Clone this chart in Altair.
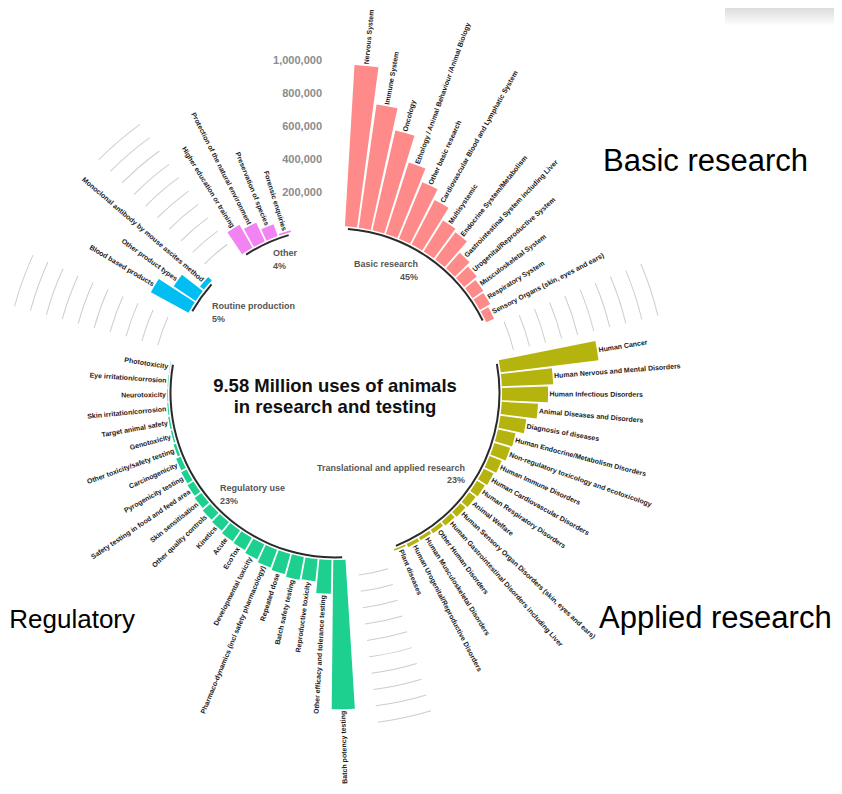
import math
import altair as alt
import pandas as pd

# ---------------- data ----------------
basic_labels = [
    "Nervous System", "Immune System", "Oncology",
    "Ethology / Animal Behaviour /Animal Biology", "Other basic research",
    "Cardiovascular Blood and Lymphatic System", "Multisystemic",
    "Endocrine System/Metabolism", "Gastrointestinal System including Liver",
    "Urogenital/Reproductive System", "Musculoskeletal System",
    "Respiratory System", "Sensory Organs (skin, eyes and ears)",
]
basic_values = [980000, 755000, 620000, 455000, 370000, 305000, 222000,
                205000, 125000, 100000, 80000, 72000, 52000]

applied_labels = [
    "Human Cancer", "Human Nervous and Mental Disorders",
    "Human Infectious Disorders", "Animal Diseases and Disorders",
    "Diagnosis of diseases", "Human Endocrine/Metabolism Disorders",
    "Non-regulatory toxicology and ecotoxicology", "Human Immune Disorders",
    "Human Cardiovascular Disorders", "Human Respiratory Disorders",
    "Animal Welfare", "Human Sensory Organ Disorders (skin, eyes and ears)",
    "Human Gastrointestinal Disorders including Liver", "Other Human Disorders",
    "Human Musculoskeletal Disorders", "Human Urogenital/Reproductive Disorders",
    "Plant diseases",
]
applied_values = [597000, 311000, 279000, 220000, 158000, 109000, 100000,
                  78000, 65000, 55000, 48000, 40000, 33000, 25000, 20000,
                  22000, 10000]

regulatory_labels = [
    "Batch potency testing", "Other efficacy and tolerance testing",
    "Reproductive toxicity", "Batch safety testing", "Repeated dose",
    "Pharmaco-dynamics (incl safety pharmacology)", "Developmental toxicity",
    "EcoTox", "Acute", "Kinetics", "Other quality controls",
    "Skin sensitisation", "Safety testing in food and feed area",
    "Pyrogenicity testing", "Carcinogenicity", "Other toxicity/safety testing",
    "Genotoxicity", "Target animal safety", "Skin irritation/corrosion",
    "Neurotoxicity", "Eye irritation/corrosion", "Phototoxicity",
]
regulatory_values = [905000, 205000, 135000, 140000, 127000, 115000, 100000,
                     85000, 80000, 68000, 60000, 50000, 42000, 36000, 30000,
                     15000, 9000, 9000, 6000, 4000, 3000, 2000]

routine_labels = ["Blood based products", "Other product types",
                  "Monoclonal antibody by mouse ascites method"]
routine_values = [260000, 160000, 30000]

other_labels = ["Higher education or training",
                "Protection of the natural environment",
                "Preservation of species", "Forensic enquiries"]
other_values = [160000, 125000, 76000, 10000]

group_names = ["Basic research", "Translational and applied research",
               "Regulatory use", "Routine production", "Other"]
group_shares = ["45%", "23%", "23%", "5%", "4%"]

axis_ticks = [200000, 400000, 600000, 800000, 1000000]
axis_tick_labels = ["200,000", "400,000", "600,000", "800,000", "1,000,000"]
grid_ticks = [100000 * k for k in range(1, 11)]

title_lines = ["9.58 Million uses of animals", "in research and testing"]
side_notes = ["Basic research", "Applied research", "Regulatory"]

# ---------------- layout ----------------
W, H = 826, 778
CX, CY = 327, 385          # centre of the wheel inside the plot
R0, PXM = 167.0, 165.0     # inner radius, pixels per million
STEP, HALF = 4.78, 2.1     # angular slot and half bar width (deg)
group_start = [5.5, 80.8, 178.5, 300.8, 328.3]
group_outward = [True, True, False, False, False]
group_colors = ["#FF8A8A", "#B5B30D", "#1DD08F", "#00BDF2", "#F283F2"]
LABEL_GAP = 1.5

groups = [(basic_labels, basic_values), (applied_labels, applied_values),
          (regulatory_labels, regulatory_values),
          (routine_labels, routine_values), (other_labels, other_values)]

def px_to_v(r):
    return (r - R0) / PXM * 1e6

bar_rows, lab_rows, blk_rows, gap_rows = [], [], [], []
ends = []
for gi, (labs, vals) in enumerate(groups):
    for i, (lab, v) in enumerate(zip(labs, vals)):
        tc = group_start[gi] + i * STEP
        bar_rows.append(dict(group=group_names[gi], label=lab, v=v,
                             base=0, t0=tc - HALF, t1=tc + HALF, o=0))
        r = R0 + PXM * v / 1e6 + LABEL_GAP
        a = math.radians(tc)
        ang = (tc - 90) if group_outward[gi] else (tc - 270)
        lab_rows.append(dict(label=lab, x=r * math.sin(a), y=-r * math.cos(a),
                             ang=ang % 360, out=group_outward[gi]))
    t_end = group_start[gi] + (len(labs) - 1) * STEP
    ends.append(t_end)
    blk_rows.append(dict(t0=group_start[gi] - 1.0, t1=t_end + 1.0,
                         r1=px_to_v(165.5), r2=px_to_v(163.5), o=0))

for gi in range(len(groups) - 1):
    gc = (ends[gi] + group_start[gi + 1]) / 2
    for gv in grid_ticks:
        gap_rows.append(dict(t0=gc - 4.7, t1=gc + 4.7,
                             r1=gv + 3000, r2=gv - 3000, o=0))

bar_df = pd.DataFrame(bar_rows)
lab_df = pd.DataFrame(lab_rows)
lab_out = lab_df[lab_df["out"]].drop(columns="out")
lab_in = lab_df[~lab_df["out"]].drop(columns="out")
blk_df = pd.DataFrame(blk_rows)
gap_df = pd.DataFrame(gap_rows)

tick_df = pd.DataFrame(dict(text=axis_tick_labels, x=[-13] * 5,
                            y=[-(R0 + PXM * t / 1e6) for t in axis_ticks]))

grp_pos = [(83, -126, -113, "right"), (130, 78, 90, "right"),
           (-115, 98, 111, "left"), (-123, -84, -71, "left"),
           (-62, -137, -124, "left")]
grp_rows = []
for name, share, (gx, gy1, gy2, al) in zip(group_names, group_shares, grp_pos):
    grp_rows.append(dict(text=name, x=gx, y=gy1, al=al))
    grp_rows.append(dict(text=share, x=gx, y=gy2, al=al))
grp_df = pd.DataFrame(grp_rows)

title_df = pd.DataFrame(dict(text=title_lines, x=[0, 0], y=[-1, 20]))
note_df = pd.DataFrame(dict(text=side_notes, x=[268, 264, -200],
                            y=[-222, 235, 235],
                            al=["left", "left", "right"],
                            size=[31, 31, 26]))
band_df = pd.DataFrame(dict(x=[390], x2=[510], y=[-395], y2=[-367]))

# ---------------- scales ----------------
xs = alt.Scale(domain=[-CX, W - CX], range=[0, W], nice=False, zero=False)
ys = alt.Scale(domain=[-CY, H - CY], range=[0, H], nice=False, zero=False)
ts = alt.Scale(domain=[0, 360], range=[0, 2 * math.pi], nice=False, zero=False)
rs = alt.Scale(type="linear", domain=[0, 1e6], range=[R0, R0 + PXM],
               nice=False, zero=False)

X0 = alt.X("o:Q", scale=xs, axis=None)
Y0 = alt.Y("o:Q", scale=ys, axis=None)
TH = alt.Theta("t0:Q", scale=ts, stack=False)
TH2 = alt.Theta2("t1:Q")

band = alt.Chart(band_df).mark_rect(
    color=alt.LinearGradient(
        gradient="linear",
        stops=[alt.GradientStop(color="#c9c9c9", offset=0),
               alt.GradientStop(color="#ffffff", offset=1)],
        x1=0, x2=0, y1=0, y2=1)
).encode(x=alt.X("x:Q", scale=xs, axis=None), x2="x2:Q",
         y=alt.Y("y:Q", scale=ys, axis=None), y2="y2:Q")

gaps = alt.Chart(gap_df).mark_arc(color="#cdcdcd").encode(
    x=X0, y=Y0, theta=TH, theta2=TH2,
    radius=alt.Radius("r1:Q", scale=rs), radius2=alt.Radius2("r2:Q"))

blk = alt.Chart(blk_df).mark_arc(color="#2a2a2a").encode(
    x=X0, y=Y0, theta=TH, theta2=TH2,
    radius=alt.Radius("r1:Q", scale=rs), radius2=alt.Radius2("r2:Q"))

bars = alt.Chart(bar_df).mark_arc().encode(
    x=X0, y=Y0, theta=TH, theta2=TH2,
    radius=alt.Radius("v:Q", scale=rs), radius2=alt.Radius2("base:Q"),
    color=alt.Color("group:N", scale=alt.Scale(domain=group_names,
                                               range=group_colors),
                    legend=None))

def txt(df, **kw):
    return alt.Chart(df).mark_text(font="Liberation Sans", **kw).encode(
        x=alt.X("x:Q", scale=xs, axis=None),
        y=alt.Y("y:Q", scale=ys, axis=None),
        text="text:N")

LAB = dict(font="Liberation Sans", fontSize=7.0, fontWeight="bold",
           color="#1a1a1a", baseline="middle")
labels_out = alt.Chart(lab_out).mark_text(align="left", **LAB).encode(
    x=alt.X("x:Q", scale=xs, axis=None), y=alt.Y("y:Q", scale=ys, axis=None),
    text="label:N", angle=alt.Angle("ang:Q", scale=None))
labels_in = alt.Chart(lab_in).mark_text(align="right", **LAB).encode(
    x=alt.X("x:Q", scale=xs, axis=None), y=alt.Y("y:Q", scale=ys, axis=None),
    text="label:N", angle=alt.Angle("ang:Q", scale=None))

ticks = txt(tick_df, align="right", baseline="middle", fontSize=11,
            fontWeight="bold", color="#8c8c8c")
grp_r = txt(grp_df[grp_df["al"] == "right"], align="right",
            baseline="alphabetic", fontSize=9, fontWeight="bold",
            color="#555555")
grp_l = txt(grp_df[grp_df["al"] == "left"], align="left",
            baseline="alphabetic", fontSize=9, fontWeight="bold",
            color="#555555")
title = txt(title_df, align="center", baseline="alphabetic", fontSize=18.5,
            fontWeight="bold", color="#111111")
notes_l = txt(note_df[note_df["al"] == "left"], align="left",
              baseline="alphabetic", color="#000000").encode(
    size=alt.Size("size:Q", scale=None))
notes_r = txt(note_df[note_df["al"] == "right"], align="right",
              baseline="alphabetic", color="#000000").encode(
    size=alt.Size("size:Q", scale=None))

chart = alt.layer(
    band, gaps, blk, bars, labels_out, labels_in, ticks, grp_r, grp_l,
    title, notes_l, notes_r
).properties(
    width=W, height=H, padding=0,
    autosize=alt.AutoSizeParams(type="none")
).configure_view(stroke=None)

chart.save("out.html", embed_options={"renderer": "svg", "actions": False})
